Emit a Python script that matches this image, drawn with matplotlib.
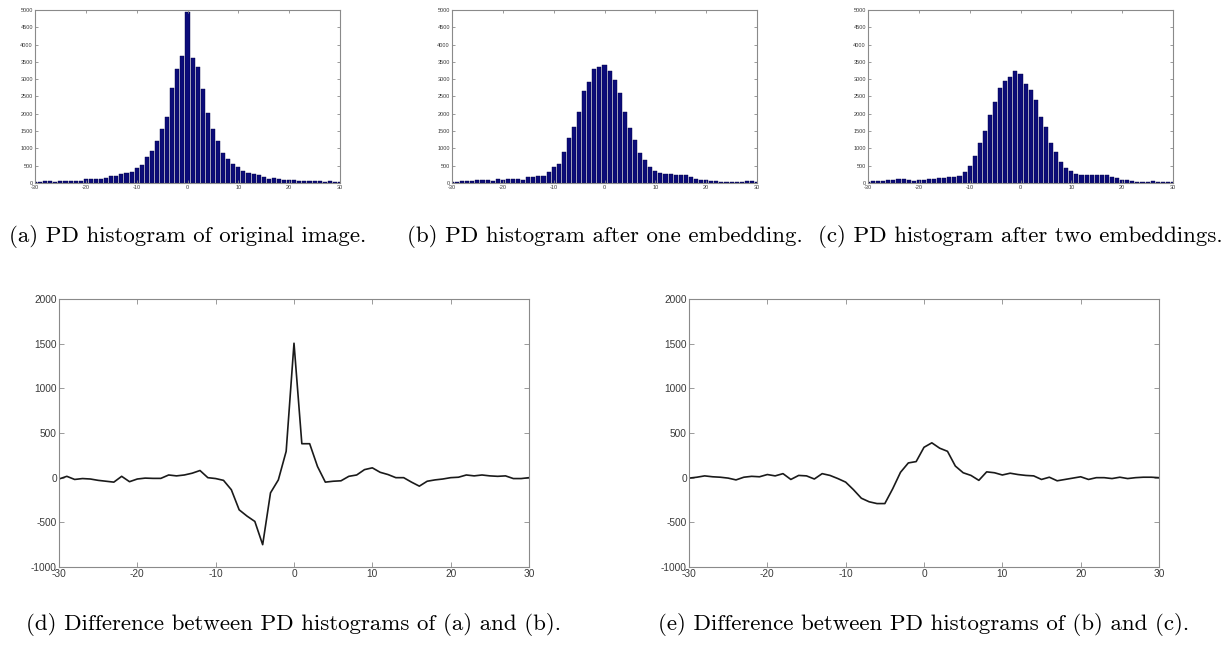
import numpy as np
import matplotlib
matplotlib.use("Agg")
import matplotlib.pyplot as plt

plt.rcParams['axes.unicode_minus'] = False
plt.rcParams['font.family'] = ['Liberation Sans', 'DejaVu Sans']

# bin positions of the pixel-difference histograms
bins = list(range(-30, 31))

# (a) original image
hist_a = [40, 40, 45, 45, 40, 45, 50, 70, 60, 70,
          110, 110, 110, 130, 150, 200, 200, 250, 290, 320,
          440, 530, 760, 920, 1200, 1560, 1920, 2740, 3290, 3660,
          4930,
          3620, 3360, 2720, 2020, 1560, 1200, 880, 690, 560, 450,
          360, 290, 260, 220, 170, 130, 140, 110, 90, 80,
          80, 70, 60, 60, 60, 50, 40, 60, 40, 40]

# (b) after one embedding
hist_b = [40, 40, 55, 60, 60, 75, 85, 100, 50, 110,
          100, 110, 110, 120, 100, 170, 170, 200, 210, 320,
          450, 560, 900, 1290, 1630, 2050, 2670, 2910, 3300, 3360,
          3420,
          3240, 2990, 2600, 2060, 1600, 1230, 860, 660, 460, 340,
          300, 260, 250, 230, 230, 220, 170, 130, 100, 80,
          70, 50, 40, 40, 40, 40, 30, 50, 50, 40]

# (c) after two embeddings
hist_c = [40, 50, 50, 60, 80, 90, 110, 110, 100, 70,
          100, 90, 110, 130, 140, 150, 180, 180, 210, 330,
          490, 770, 1160, 1500, 1960, 2350, 2750, 2950, 3070, 3250,
          3150,
          2870, 2700, 2390, 1920, 1620, 1170, 900, 600, 420, 360,
          250, 240, 240, 230, 230, 230, 220, 160, 140, 100,
          80, 50, 40, 40, 40, 50, 40, 40, 40, 40]

# (d) difference a - b
diff_d = [-15, 15, -20, -10, -15, -30, -40, -50, 15, -45,
          -15, -5, -8, -8, 30, 20, 30, 50, 80, 0,
          -10, -30, -135, -360, -430, -490, -750, -170, -25, 295,
          1505,
          380, 380, 125, -50, -40, -35, 15, 30, 90, 110,
          60, 35, 0, 0, -50, -95, -40, -25, -15, 0,
          5, 30, 20, 30, 20, 15, 20, -10, -10, 0]

# (e) difference b - c
diff_e = [-5, 5, 20, 10, 5, -5, -25, 5, 15, 10,
          35, 20, 45, -20, 25, 20, -15, 45, 25, -10,
          -50, -135, -230, -270, -290, -290, -125, 60, 165, 180,
          340,
          390, 330, 295, 130, 55, 25, -30, 65, 55, 30,
          50, 35, 25, 20, -20, 5, -35, -20, -5, 10,
          -20, 0, 0, -10, 5, -10, 0, 5, 5, 0]

hist_captions = ['(a) PD histogram of original image.',
                 '(b) PD histogram after one embedding.',
                 '(c) PD histogram after two embeddings.']
diff_captions = ['(d) Difference between PD histograms of (a) and (b).',
                 '(e) Difference between PD histograms of (b) and (c).']

W, H = 1223, 646
fig = plt.figure(figsize=(W / 100, H / 100), dpi=100)


def px_axes(x0, y0, x1, y1):
    return fig.add_axes([x0 / W, 1 - y1 / H, (x1 - x0) / W, (y1 - y0) / H])


def matlab_style(ax, fs, ticklen):
    for s in ax.spines.values():
        s.set_color('#8a8a8a')
        s.set_linewidth(0.8)
    ax.tick_params(direction='in', top=True, right=True, length=ticklen,
                   width=0.6, color='#8a8a8a', labelsize=fs,
                   labelcolor='#3a3a3a', pad=1.5)


hist_boxes = [(35, 10, 340, 183), (452, 10, 757, 183), (868, 10, 1173, 183)]
for box, vals, cap in zip(hist_boxes, [hist_a, hist_b, hist_c], hist_captions):
    ax = px_axes(*box)
    ax.bar(bins, vals, width=0.8, color='#0c0c7a', edgecolor='#000044', linewidth=0.3)
    ax.set_xlim(-30, 30)
    ax.set_ylim(0, 5000)
    ax.set_xticks(range(-30, 31, 10))
    ax.set_yticks(range(0, 5001, 500))
    matlab_style(ax, 4, 2)
    fig.text((box[0] + box[2]) / 2 / W, 1 - 237 / H, cap, ha='center', va='center',
             family='cmr10', fontsize=16.5)

diff_boxes = [(59, 299, 529, 567), (689, 299, 1159, 567)]
for box, vals, cap in zip(diff_boxes, [diff_d, diff_e], diff_captions):
    ax = px_axes(*box)
    ax.plot(bins, vals, color='#1a1a1a', linewidth=1.2)
    ax.set_xlim(-30, 30)
    ax.set_ylim(-1000, 2000)
    ax.set_xticks(range(-30, 31, 10))
    ax.set_yticks(range(-1000, 2001, 500))
    matlab_style(ax, 7.3, 3.5)
    fig.text((box[0] + box[2]) / 2 / W, 1 - 625 / H, cap, ha='center', va='center',
             family='cmr10', fontsize=16.5)

fig.savefig('out.png', dpi=100)
